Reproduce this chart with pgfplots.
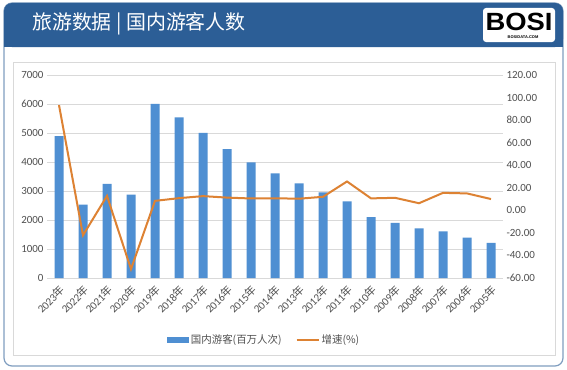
\documentclass[border=0pt]{standalone}
\usepackage{fontspec}
\usepackage{pgfplots}
\usepackage{pgfplotstable}
\pgfplotsset{compat=1.18}
\setmainfont{Carlito}
\newfontfamily\cjk{Noto Sans CJK SC}
\newfontfamily\logofont{Liberation Sans}
\definecolor{hdr}{HTML}{2C5E96}
\definecolor{barblue}{HTML}{4F8FD2}
\definecolor{lineor}{HTML}{DD8233}
\definecolor{txt}{HTML}{505050}
\definecolor{gridc}{HTML}{D9D9D9}
\newcommand\nian{{\cjk 年}}

\pgfplotstableread{
x val growth
0 4891 93.3
1 2530 -22.1
2 3246 12.8
3 2879 -52.1
4 6006 8.4
5 5539 10.8
6 5001 12.6
7 4440 11.3
8 3990 10.5
9 3611 10.7
10 3262 10.3
11 2957 12.0
12 2641 25.6
13 2103 10.6
14 1902 11.1
15 1712 6.3
16 1610 15.5
17 1394 15.0
18 1212 10.0
}\data

\begin{document}
\begin{tikzpicture}[x=1bp,y=1bp]
\useasboundingbox (0,0) rectangle (567,369);
\draw[fill=white, draw=hdr!60, line width=1.2bp, rounded corners=8bp] (4,3) rectangle (563,366);
\fill[hdr, rounded corners=8bp] (4,322) rectangle (563,366);
\fill[hdr] (4,322) rectangle (563,332);
\draw[gridc, line width=0.8bp] (13,14) rectangle (555,307);
\node[anchor=west, text=white, font=\cjk\fontsize{20}{24}\selectfont, inner sep=0pt] at (32,345) {旅游数据 | 国内游客人数};
\fill[white, rounded corners=3bp] (483,327) rectangle (555,361);
\node[font=\logofont\bfseries\fontsize{25}{25}\selectfont, text=black, inner sep=0pt, xscale=1.1] at (519,347) {BOSI};
\node[font=\logofont\bfseries\fontsize{4}{4}\selectfont, inner sep=0pt] at (523,331.5) {BOSIDATA.COM};

\begin{axis}[at={(47bp,91bp)}, anchor=south west, scale only axis,
  width=456bp, height=203bp,
  xmin=-0.5, xmax=18.5, ymin=0, ymax=7000, ytick={0,1000,...,7000},
  xtick={0,...,18},
  xticklabels={2023\nian,2022\nian,2021\nian,2020\nian,2019\nian,2018\nian,2017\nian,2016\nian,2015\nian,2014\nian,2013\nian,2012\nian,2011\nian,2010\nian,2009\nian,2008\nian,2007\nian,2006\nian,2005\nian},
  axis x line*=bottom, axis y line*=left, axis line style={-},
  y axis line style={draw=none}, x axis line style={draw=gridc, line width=0.8bp},
  tick style={draw=none},
  ymajorgrids, grid style={draw=gridc, line width=0.8bp},
  ybar, bar width=9bp,
  tick label style={font=\fontsize{11}{13}\selectfont, text=txt},
  yticklabel style={/pgf/number format/assume math mode=true, /pgf/number format/set thousands separator={}},
  xticklabel style={rotate=45, anchor=north east, inner sep=1bp},
  legend style={at={(0.476,-0.305)}, anchor=center, draw=none, fill=none,
    legend columns=2, font=\cjk\fontsize{10.5}{12}\selectfont, text=txt,
    /tikz/every even column/.append style={column sep=12bp}},
]
\addplot[fill=barblue, draw=none, legend image code/.code={\fill[barblue] (0bp,-3bp) rectangle (22bp,3bp);}] table[x=x,y=val]{\data};
\addlegendentry{国内游客(百万人次)}
\addlegendimage{legend image code/.code={\draw[lineor, line width=2bp] (0bp,0bp) -- (22bp,0bp);}}
\addlegendentry{增速(\%)}
\end{axis}

\begin{axis}[at={(47bp,91bp)}, anchor=south west, scale only axis,
  width=456bp, height=203bp,
  xmin=-0.5, xmax=18.5, ymin=-60, ymax=120, ytick={-60,-40,...,120},
  axis x line=none, axis y line*=right, axis line style={-}, y axis line style={draw=none},
  tick style={draw=none},
  yticklabel style={font=\fontsize{11}{13}\selectfont, text=txt,
    /pgf/number format/.cd, fixed, fixed zerofill, precision=2, assume math mode=true},
]
\addplot[lineor, line width=2bp, mark=none] table[x=x,y=growth]{\data};
\end{axis}
\end{tikzpicture}
\end{document}
